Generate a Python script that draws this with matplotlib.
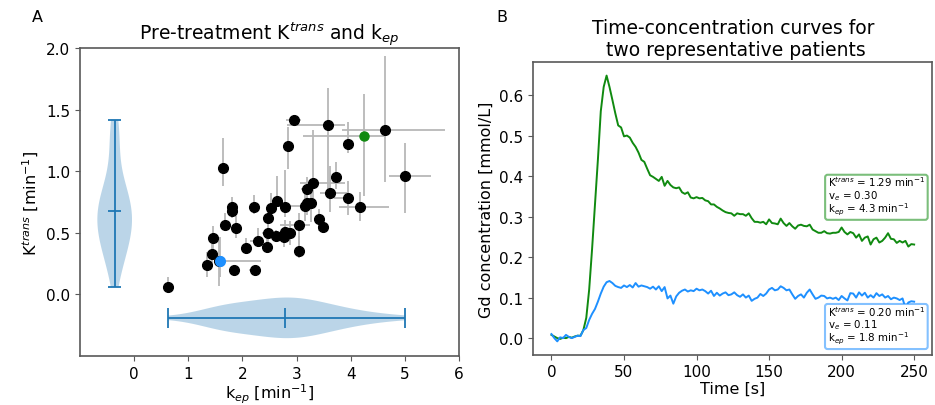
import numpy as np
import matplotlib
matplotlib.use('Agg')
import matplotlib.pyplot as plt

# ---------------- Panel A data ----------------
kep = [2.96, 3.58, 4.63, 2.84, 3.95, 1.64, 5.01, 3.72, 3.30, 3.19,
       3.61, 3.95, 4.18, 2.63, 3.20, 3.27, 3.15, 2.79, 2.53, 2.21,
       1.81, 1.81, 2.47, 3.41, 3.49, 3.04, 1.67, 1.89, 2.47, 2.79,
       2.87, 2.76, 2.62, 2.29, 2.45, 2.07, 3.04, 1.45, 1.44, 1.35,
       1.56, 1.85, 2.24, 0.63, 4.24]
ktrans = [1.42, 1.38, 1.34, 1.21, 1.22, 1.03, 0.96, 0.957, 0.906, 0.857,
          0.827, 0.784, 0.714, 0.76, 0.744, 0.741, 0.717, 0.711, 0.703, 0.711,
          0.711, 0.679, 0.625, 0.616, 0.552, 0.563, 0.563, 0.541, 0.50, 0.506,
          0.50, 0.465, 0.476, 0.438, 0.389, 0.379, 0.354, 0.46, 0.327, 0.243,
          0.268, 0.195, 0.195, 0.06, 1.29]
kep_err_lo = [0.15, 0.76, 0.79, 0.05, 0.10, 0.05, 0.30, 0.05, 0.23, 0.10,
              0.17, 0.25, 0.40, 0.05, 0.05, 0.10, 0.70, 0.10, 0.05, 0.05,
              0.05, 0.05, 0.05, 0.05, 0.05, 0.35, 0.05, 0.05, 0.10, 0.05,
              0.05, 0.05, 0.05, 0.15, 0.05, 0.05, 0.05, 0.05, 0.05, 0.05,
              0.05, 0.05, 0.12, 0.02, 1.12]
kep_err_hi = [0.12, 0.32, 1.11, 0.05, 0.10, 0.12, 0.48, 0.05, 0.60, 0.10,
              0.32, 0.05, 0.53, 0.05, 0.05, 0.10, 0.10, 0.10, 0.05, 0.05,
              0.08, 0.05, 0.05, 0.05, 0.05, 0.20, 0.05, 0.05, 0.10, 0.20,
              0.05, 0.05, 0.05, 0.10, 0.05, 0.05, 0.10, 0.05, 0.05, 0.05,
              0.05, 0.05, 0.05, 0.02, 0.37]
kt_err_lo = [0.04, 0.60, 0.43, 0.19, 0.07, 0.15, 0.30, 0.10, 0.16, 0.10,
             0.16, 0.14, 0.12, 0.04, 0.10, 0.15, 0.12, 0.08, 0.05, 0.06,
             0.06, 0.06, 0.07, 0.10, 0.05, 0.20, 0.05, 0.08, 0.08, 0.05,
             0.10, 0.08, 0.05, 0.05, 0.05, 0.05, 0.06, 0.15, 0.10, 0.10,
             0.20, 0.03, 0.03, 0.03, 0.49]
kt_err_hi = [0.04, 0.30, 0.60, 0.15, 0.18, 0.24, 0.27, 0.12, 0.43, 0.10,
             0.22, 0.14, 0.12, 0.20, 0.10, 0.15, 0.15, 0.30, 0.12, 0.10,
             0.08, 0.06, 0.07, 0.08, 0.05, 0.10, 0.10, 0.10, 0.08, 0.10,
             0.10, 0.08, 0.05, 0.10, 0.10, 0.08, 0.12, 0.10, 0.12, 0.10,
             0.20, 0.03, 0.03, 0.08, 0.34]

# highlighted patients
green_pt = [4.24, 1.29]
blue_pt = [1.59, 0.27]
blue_err = [0.09, 0.76, 0.13, 0.20]

# ---------------- Panel B data ----------------
time_s = list(range(0, 252, 2))
conc_green = [
    0.008, 0.004, 0.000, -0.002, 0.001, 0.000, 0.003, 0.001, 0.004, 0.006,
    0.006, 0.020, 0.050, 0.120, 0.220, 0.330, 0.440, 0.560, 0.620, 0.648,
    0.620, 0.588, 0.555, 0.525, 0.520, 0.498, 0.500, 0.495, 0.482, 0.472,
    0.458, 0.440, 0.435, 0.418, 0.402, 0.398, 0.393, 0.388, 0.398, 0.376,
    0.388, 0.378, 0.372, 0.370, 0.372, 0.360, 0.356, 0.360, 0.347, 0.345,
    0.348, 0.345, 0.346, 0.340, 0.338, 0.330, 0.330, 0.324, 0.320, 0.315,
    0.311, 0.309, 0.308, 0.302, 0.308, 0.306, 0.306, 0.302, 0.308, 0.296,
    0.287, 0.287, 0.285, 0.287, 0.281, 0.293, 0.284, 0.283, 0.281, 0.295,
    0.284, 0.277, 0.284, 0.276, 0.270, 0.278, 0.280, 0.277, 0.276, 0.280,
    0.268, 0.264, 0.260, 0.260, 0.264, 0.259, 0.258, 0.260, 0.260, 0.262,
    0.273, 0.262, 0.256, 0.262, 0.259, 0.248, 0.256, 0.240, 0.248, 0.251,
    0.231, 0.244, 0.248, 0.236, 0.240, 0.248, 0.259, 0.245, 0.244, 0.235,
    0.240, 0.236, 0.240, 0.226, 0.232, 0.231]
conc_blue = [
    0.010, 0.000, -0.008, 0.002, 0.000, 0.008, 0.003, 0.000, 0.003, 0.006,
    0.005, 0.020, 0.025, 0.045, 0.060, 0.072, 0.090, 0.110, 0.127, 0.138,
    0.141, 0.136, 0.129, 0.126, 0.124, 0.130, 0.126, 0.131, 0.125, 0.136,
    0.127, 0.130, 0.128, 0.126, 0.122, 0.127, 0.120, 0.128, 0.116, 0.126,
    0.098, 0.105, 0.085, 0.103, 0.112, 0.117, 0.120, 0.115, 0.118, 0.116,
    0.122, 0.118, 0.120, 0.116, 0.110, 0.117, 0.104, 0.112, 0.105, 0.110,
    0.113, 0.106, 0.108, 0.113, 0.106, 0.102, 0.108, 0.100, 0.105, 0.092,
    0.097, 0.100, 0.109, 0.104, 0.110, 0.120, 0.124, 0.118, 0.120, 0.128,
    0.124, 0.118, 0.120, 0.108, 0.097, 0.104, 0.108, 0.100, 0.112, 0.120,
    0.108, 0.097, 0.100, 0.105, 0.104, 0.098, 0.100, 0.097, 0.100, 0.094,
    0.104, 0.098, 0.093, 0.111, 0.110, 0.100, 0.113, 0.105, 0.112, 0.100,
    0.106, 0.100, 0.111, 0.104, 0.108, 0.100, 0.104, 0.096, 0.100, 0.098,
    0.094, 0.098, 0.074, 0.088, 0.091, 0.090]

green_label = 'K$^{trans}$ = 1.29 min$^{-1}$\nv$_e$ = 0.30\nk$_{ep}$ = 4.3 min$^{-1}$'
blue_label = 'K$^{trans}$ = 0.20 min$^{-1}$\nv$_e$ = 0.11\nk$_{ep}$ = 1.8 min$^{-1}$'

GREEN = '#108a10'
BLUE = '#1e90ff'
SPINE = '0.35'

fig = plt.figure(figsize=(9.35, 4.06), dpi=100)
axA = fig.add_axes([0.0856, 0.1207, 0.4053, 0.7579])
axB = fig.add_axes([0.5704, 0.1240, 0.4267, 0.7201])

# ---------- Panel A ----------
axA.errorbar(kep, ktrans, xerr=[kep_err_lo, kep_err_hi], yerr=[kt_err_lo, kt_err_hi],
             fmt='none', ecolor='0.72', elinewidth=1.3, zorder=1)
axA.errorbar([blue_pt[0]], [blue_pt[1]], xerr=[[blue_err[0]], [blue_err[1]]],
             yerr=[[blue_err[2]], [blue_err[3]]], fmt='none', ecolor='0.72',
             elinewidth=1.3, zorder=1)
axA.plot(kep[:-1], ktrans[:-1], 'o', color='black', markersize=7, zorder=3)
axA.plot([green_pt[0]], [green_pt[1]], 'o', color=GREEN, markersize=6.5, zorder=4)
axA.plot([blue_pt[0]], [blue_pt[1]], 'o', color=BLUE, markersize=7, zorder=4)

vp1 = axA.violinplot(ktrans, positions=[-0.36], widths=0.64, showmedians=True,
                     bw_method=0.55)
try:
    vp2 = axA.violinplot(kep, positions=[-0.19], widths=0.33, showmedians=True,
                         orientation='horizontal', bw_method=0.5)
except TypeError:
    vp2 = axA.violinplot(kep, positions=[-0.19], widths=0.33, showmedians=True,
                         vert=False, bw_method=0.5)
for vp in (vp1, vp2):
    for b in vp['bodies']:
        b.set_facecolor('#1f77b4')
        b.set_edgecolor('none')
        b.set_alpha(0.3)
    for key in ('cbars', 'cmins', 'cmaxes', 'cmedians'):
        vp[key].set_color('#1f77b4')
        vp[key].set_linewidth(1.3)
# shorten the vertical violin's caps to match the reference look
for key in ('cmins', 'cmaxes', 'cmedians'):
    segs = vp1[key].get_segments()
    new = []
    for s in segs:
        cx = (s[0][0] + s[1][0]) / 2
        new.append([[cx - 0.12, s[0][1]], [cx + 0.12, s[1][1]]])
    vp1[key].set_segments(new)

axA.set_xlim(-1, 6)
axA.set_ylim(-0.5, 2.0)
axA.set_xticks(range(0, 7))
axA.set_yticks([0.0, 0.5, 1.0, 1.5, 2.0])
axA.set_title('Pre-treatment K$^{trans}$ and k$_{ep}$', fontsize=13.5, pad=5)
axA.set_xlabel('k$_{ep}$ [min$^{-1}$]', fontsize=11.5, labelpad=1)
axA.set_ylabel('K$^{trans}$ [min$^{-1}$]', fontsize=11.5)

# ---------- Panel B ----------
axB.plot(time_s, conc_green, color=GREEN, lw=1.4)
axB.plot(time_s, conc_blue, color=BLUE, lw=1.4)
axB.set_xticks(range(0, 251, 50))
axB.set_yticks([0.0, 0.1, 0.2, 0.3, 0.4, 0.5, 0.6])
axB.set_title('Time-concentration curves for\n two representative patients', fontsize=13.5, pad=5)
axB.set_xlabel('Time [s]', fontsize=11.5, labelpad=1)
axB.set_ylabel('Gd concentration [mmol/L]', fontsize=11.5)

axB.text(0.982, 0.47, green_label, transform=axB.transAxes, ha='right', va='bottom',
         multialignment='left', fontsize=7.4, linespacing=0.95,
         bbox=dict(boxstyle='round,pad=0.25', facecolor='white',
                   edgecolor=(0.06, 0.54, 0.06, 0.55), lw=1.5))
axB.text(0.982, 0.028, blue_label, transform=axB.transAxes, ha='right', va='bottom',
         multialignment='left', fontsize=7.4, linespacing=0.95,
         bbox=dict(boxstyle='round,pad=0.25', facecolor='white',
                   edgecolor=(0.12, 0.56, 1.0, 0.55), lw=1.5))

for ax in (axA, axB):
    ax.tick_params(labelsize=11, color=SPINE)
    for s in ax.spines.values():
        s.set_color(SPINE)
        s.set_linewidth(1.2)

fig.text(0.034, 0.945, 'A', fontsize=11.5)
fig.text(0.531, 0.945, 'B', fontsize=11.5)

fig.savefig('out.png', dpi=100)
